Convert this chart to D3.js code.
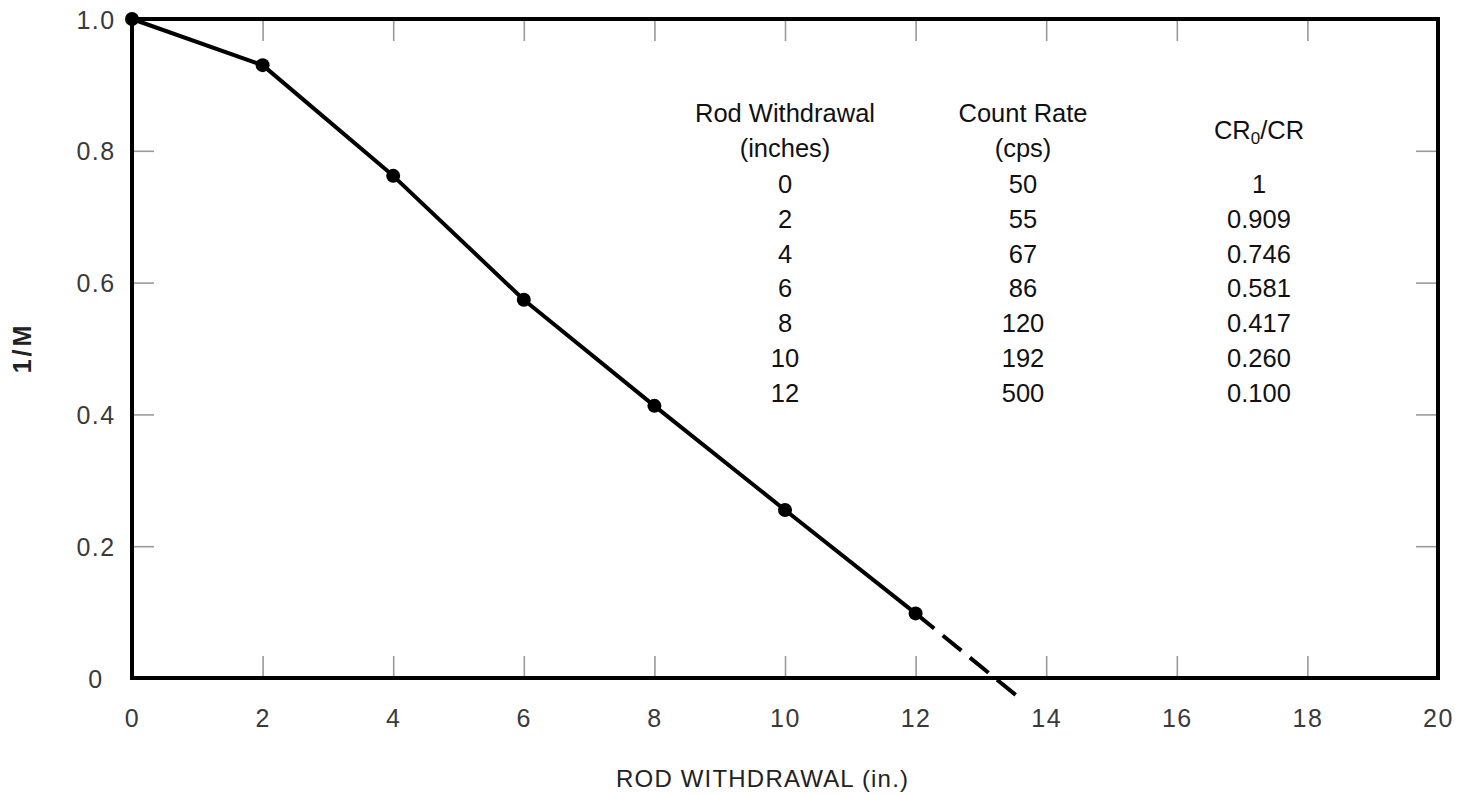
<!DOCTYPE html>
<html><head><meta charset="utf-8">
<script src="https://cdn.jsdelivr.net/npm/d3@7"></script>
<style>
html,body{margin:0;padding:0;background:#fff;}
svg{display:block;}
</style></head>
<body>
<script>
// Data
const rodWithdrawal = [0, 2, 4, 6, 8, 10, 12];
const inverseM = [1.0, 0.93, 0.762, 0.574, 0.413, 0.255, 0.098];
const extrapX = [12, 13.6];
const extrapY = [0.098, -0.031];
const xTicks = [0, 2, 4, 6, 8, 10, 12, 14, 16, 18, 20];
const yTicks = [0, 0.2, 0.4, 0.6, 0.8, 1.0];
const yTickLabels = ["0", "0.2", "0.4", "0.6", "0.8", "1.0"];
const tableRod = ["0", "2", "4", "6", "8", "10", "12"];
const tableCount = ["50", "55", "67", "86", "120", "192", "500"];
const tableRatio = ["1", "0.909", "0.746", "0.581", "0.417", "0.260", "0.100"];

const W = 1458, H = 795;
const L = 132, R = 1438, T = 19, B = 678;

const svg = d3.select("body").append("svg").attr("width", W).attr("height", H);

const x = d3.scaleLinear().domain([0, 20]).range([L, R]);
const y = d3.scaleLinear().domain([0, 1]).range([B, T]);

const tickColor = "#9a9a9a";
const labelColor = "#3a3a3a";
const tickFont = "'Liberation Sans', Arial, sans-serif";

const gB = svg.append("g").attr("transform", `translate(0,${B})`)
  .call(d3.axisBottom(x).tickValues(xTicks).tickSize(-22).tickPadding(31).tickFormat(d3.format("d")));
const gT = svg.append("g").attr("transform", `translate(0,${T})`)
  .call(d3.axisTop(x).tickValues(xTicks.slice(1, -1)).tickSize(-22).tickFormat(""));
const gL = svg.append("g").attr("transform", `translate(${L},0)`)
  .call(d3.axisLeft(y).tickValues(yTicks).tickSize(-22).tickFormat((d, i) => yTickLabels[i]));
const gR = svg.append("g").attr("transform", `translate(${R},0)`)
  .call(d3.axisRight(y).tickValues(yTicks.slice(1, -1)).tickSize(-22).tickFormat(""));

[gB, gT, gL, gR].forEach(g => {
  g.select(".domain").remove();
  g.selectAll(".tick line").attr("stroke", tickColor).attr("stroke-width", 1.6);
  g.selectAll(".tick text").attr("fill", labelColor).attr("font-family", tickFont)
    .attr("font-size", 25).attr("letter-spacing", 1.5);
});
gL.selectAll(".tick text").attr("text-anchor", "middle").attr("x", 96 - L).attr("dy", "0.36em");
gB.selectAll(".tick line").filter(d => d === 0 || d === 20).remove();
gL.selectAll(".tick line").filter(d => d === 0 || d === 1).remove();

// Frame
svg.append("rect").attr("x", L).attr("y", T).attr("width", R - L).attr("height", B - T)
  .attr("fill", "none").attr("stroke", "#000").attr("stroke-width", 4);

// Data line
const line = d3.line().x(d => x(d[0])).y(d => y(d[1]));
svg.append("path").datum(rodWithdrawal.map((d, i) => [d, inverseM[i]]))
  .attr("d", line).attr("fill", "none").attr("stroke", "#000").attr("stroke-width", 4)
  .attr("stroke-linejoin", "round");
svg.append("path").datum(extrapX.map((d, i) => [d, extrapY[i]]))
  .attr("d", line).attr("fill", "none").attr("stroke", "#000").attr("stroke-width", 4)
  .attr("stroke-dasharray", "24,11");
svg.append("g").selectAll("circle").data(rodWithdrawal).join("circle")
  .attr("cx", d => x(d)).attr("cy", (d, i) => y(inverseM[i])).attr("r", 7).attr("fill", "#000");

// Axis titles
svg.append("text").attr("x", 616).attr("y", 787).attr("font-family", tickFont)
  .attr("font-size", 24).attr("fill", "#222").attr("textLength", 292).attr("lengthAdjust", "spacing")
  .text("ROD  WITHDRAWAL (in.)");
svg.append("text").attr("transform", "translate(31,348) rotate(-90)").attr("text-anchor", "middle")
  .attr("font-family", tickFont).attr("font-size", 25).attr("font-weight", "bold").attr("fill", "#222")
  .attr("letter-spacing", 3).text("1/M");

// Table
const tf = "'Liberation Sans', Arial, sans-serif";
const tfs = 25.5;
const colX = [785, 1023, 1259];
const tbl = svg.append("g").attr("font-family", tf).attr("font-size", tfs).attr("fill", "#111").attr("text-anchor", "middle");
tbl.append("text").attr("x", colX[0]).attr("y", 122).text("Rod Withdrawal");
tbl.append("text").attr("x", colX[0]).attr("y", 157).text("(inches)");
tbl.append("text").attr("x", colX[1]).attr("y", 122).text("Count Rate");
tbl.append("text").attr("x", colX[1]).attr("y", 157).text("(cps)");
const cr = tbl.append("text").attr("x", colX[2]).attr("y", 139);
cr.append("tspan").text("CR");
cr.append("tspan").attr("font-size", 17).attr("dy", 5).text("0");
cr.append("tspan").attr("dy", -5).text("/CR");
[tableRod, tableCount, tableRatio].forEach((col, c) => {
  tbl.selectAll(null).data(col).join("text")
    .attr("x", colX[c]).attr("y", (d, i) => 193 + i * 34.8).text(d => d);
});
</script>
</body></html>
